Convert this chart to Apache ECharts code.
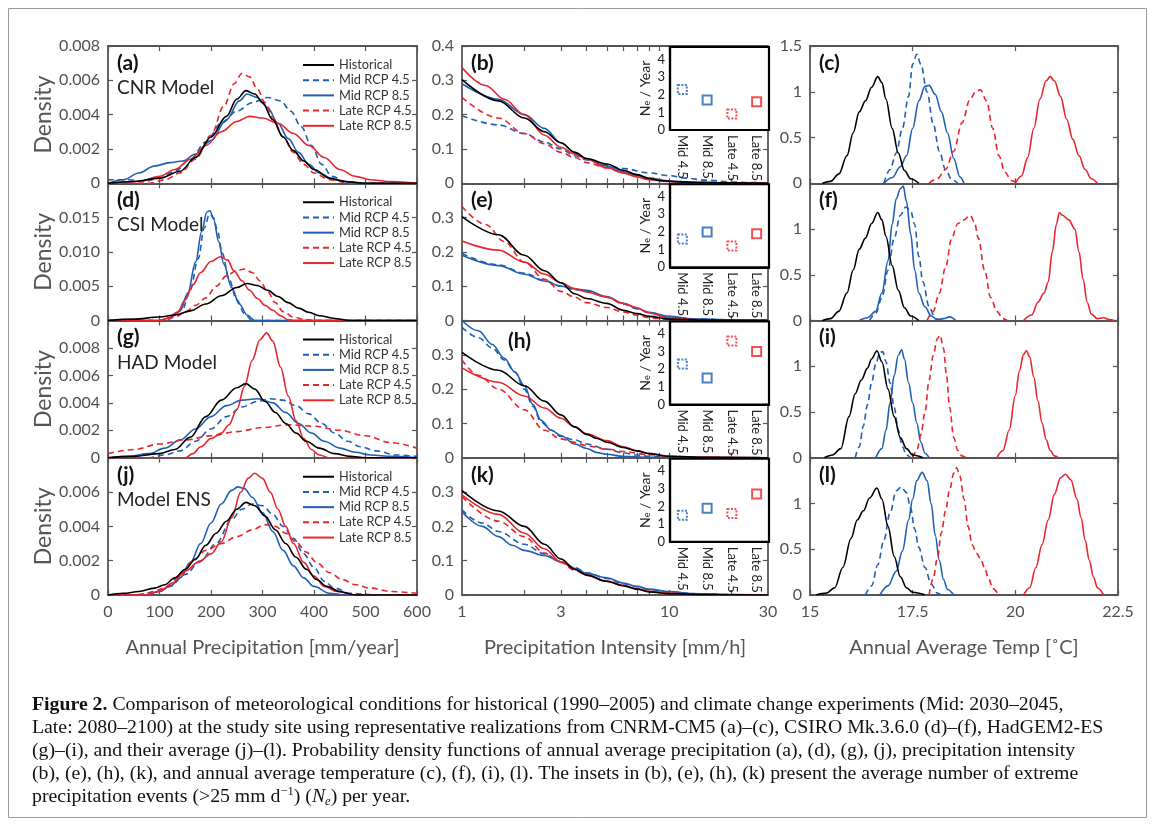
<!DOCTYPE html>
<html><head><meta charset="utf-8">
<script src="https://cdn.jsdelivr.net/npm/echarts@6/dist/echarts.min.js"></script>
<style>html,body{margin:0;padding:0;background:#fff}#c{width:1155px;height:825px}</style>
</head><body><div id="c"></div>
<script>
// ---------------- DATA ----------------
const seriesNames = ['Historical','Mid RCP 4.5','Mid RCP 8.5','Late RCP 4.5','Late RCP 8.5'];
const modelNames = ['CNR Model','CSI Model','HAD Model','Model ENS'];
const panelLetters = ['(a)','(b)','(c)','(d)','(e)','(f)','(g)','(h)','(i)','(j)','(k)','(l)'];
const insetCategories = ['Mid 4.5','Mid 8.5','Late 4.5','Late 8.5'];
const precipTicks = [0,100,200,300,400,500,600];
const intensityTickLabels = [1,3,10,30];
const intensityMinorTicks = [2,3,4,5,6,7,8,9,10,20];
const tempTicks = [15,17.5,20,22.5];

// (a) CNR annual precipitation [mm/year, density]
const a_hist = [[0,0],[50,0.0001],[100,0.0003],[140,0.0007],[170,0.0015],[200,0.0027],[230,0.0039],[250,0.0049],[268,0.0054],[285,0.0052],[300,0.0047],[320,0.0037],[340,0.0027],[360,0.0019],[380,0.0013],[400,0.0008],[430,0.0003],[460,0.0001],[500,0],[600,0]];
const a_mid45 = [[0,0.0002],[40,0.0002],[70,0.0001],[100,0.0003],[130,0.0007],[160,0.0014],[190,0.0024],[220,0.0035],[250,0.0042],[280,0.0047],[310,0.0050],[335,0.0048],[355,0.0042],[375,0.0033],[395,0.0022],[415,0.0011],[435,0.0004],[460,0.0001],[490,0],[600,0]];
const a_mid85 = [[0,0],[30,0.0002],[60,0.0006],[90,0.0010],[120,0.0012],[145,0.0013],[170,0.0017],[200,0.0025],[230,0.0037],[255,0.0048],[270,0.0052],[290,0.0050],[310,0.0044],[330,0.0035],[350,0.0026],[370,0.0018],[390,0.0011],[410,0.0006],[440,0.0002],[480,0],[600,0]];
const a_late45 = [[0,0],[80,0],[110,0.0002],[140,0.0006],[170,0.0014],[200,0.0028],[225,0.0045],[245,0.0058],[260,0.0064],[275,0.0062],[290,0.0055],[305,0.0047],[320,0.0038],[340,0.0027],[360,0.0018],[380,0.0011],[400,0.0006],[430,0.0002],[470,0],[600,0]];
const a_late85 = [[0,0],[60,0.0001],[100,0.0004],[130,0.0008],[160,0.0014],[190,0.0022],[220,0.0030],[250,0.0036],[275,0.0039],[300,0.0038],[330,0.0035],[360,0.0029],[390,0.0022],[420,0.0015],[450,0.0008],[480,0.0004],[510,0.0002],[550,0.0001],[600,0]];

// (d) CSI
const d_hist = [[0,0],[50,0.0002],[100,0.0005],[130,0.0008],[160,0.0014],[190,0.0024],[220,0.0036],[250,0.0048],[270,0.0054],[290,0.0051],[310,0.0044],[330,0.0035],[350,0.0026],[370,0.0018],[390,0.0012],[410,0.0007],[440,0.0003],[470,0],[600,0]];
const d_mid45 = [[0,0],[105,0],[125,0.0005],[145,0.0017],[160,0.0045],[175,0.0090],[187,0.0135],[197,0.0155],[205,0.0150],[212,0.0132],[222,0.0098],[235,0.0060],[250,0.0030],[265,0.0010],[280,0],[600,0]];
const d_mid85 = [[0,0],[100,0],[120,0.0004],[140,0.0014],[155,0.0040],[170,0.0085],[182,0.0130],[192,0.0158],[198,0.0160],[205,0.0148],[215,0.0115],[225,0.0082],[240,0.0048],[255,0.0024],[270,0.0008],[285,0],[600,0]];
const d_late45 = [[0,0],[110,0],[130,0.0005],[150,0.0012],[170,0.0022],[190,0.0033],[210,0.0050],[230,0.0065],[250,0.0073],[265,0.0075],[280,0.0070],[295,0.0058],[310,0.0042],[325,0.0026],[340,0.0013],[360,0.0005],[385,0.0001],[400,0],[600,0]];
const d_late85 = [[0,0],[100,0],[115,0.0003],[135,0.0012],[150,0.0030],[165,0.0052],[180,0.0070],[200,0.0086],[218,0.0093],[232,0.0088],[245,0.0072],[260,0.0058],[275,0.0044],[290,0.0032],[305,0.0022],[320,0.0015],[335,0.0007],[350,0.0001],[360,0],[600,0]];

// (g) HAD
const g_hist = [[0,0],[50,0.0001],[100,0.0003],[130,0.0006],[160,0.0015],[190,0.0030],[220,0.0042],[250,0.0051],[268,0.0054],[285,0.0050],[305,0.0041],[325,0.0033],[345,0.0025],[365,0.0018],[385,0.0012],[410,0.0007],[440,0.0003],[470,0.0001],[500,0],[600,0]];
const g_mid45 = [[0,0],[80,0],[110,0.0002],[140,0.0005],[170,0.0012],[200,0.0021],[230,0.0030],[260,0.0037],[290,0.0041],[315,0.0043],[340,0.0042],[365,0.0038],[390,0.0032],[415,0.0025],[440,0.0018],[465,0.0012],[490,0.0008],[520,0.0005],[560,0.0002],[600,0.0001]];
const g_mid85 = [[0,0],[40,0.0001],[80,0.0003],[110,0.0007],[140,0.0013],[170,0.0021],[200,0.0030],[230,0.0038],[260,0.0042],[290,0.0043],[320,0.0040],[345,0.0033],[370,0.0025],[395,0.0018],[420,0.0012],[450,0.0007],[480,0.0004],[510,0.0002],[550,0.0001],[600,0]];
const g_late45 = [[0,0.0003],[50,0.0006],[100,0.0010],[150,0.0013],[200,0.0016],[250,0.0019],[300,0.0022],[350,0.0024],[400,0.0023],[450,0.0020],[500,0.0016],[550,0.0011],[600,0.0007]];
const g_late85 = [[0,0],[150,0],[165,0.0003],[180,0.0008],[200,0.0014],[220,0.0018],[235,0.0024],[250,0.0035],[265,0.0052],[280,0.0071],[295,0.0086],[308,0.0091],[320,0.0085],[335,0.0066],[350,0.0045],[365,0.0027],[380,0.0014],[395,0.0006],[410,0.0002],[430,0],[600,0]];

// (j) ENS
const j_hist = [[0,0],[30,0.0001],[60,0.0002],[90,0.0004],[110,0.0006],[130,0.0010],[150,0.0015],[170,0.0021],[190,0.0029],[210,0.0036],[230,0.0043],[250,0.0050],[268,0.0054],[285,0.0052],[305,0.0046],[325,0.0038],[345,0.0030],[365,0.0022],[385,0.0015],[405,0.0009],[425,0.0005],[450,0.0002],[480,0],[600,0]];
const j_mid45 = [[0,0],[60,0],[90,0.0002],[120,0.0005],[150,0.0012],[180,0.0020],[210,0.0030],[240,0.0044],[260,0.0050],[280,0.0053],[300,0.0052],[320,0.0047],[340,0.0040],[360,0.0033],[380,0.0024],[400,0.0016],[420,0.0008],[440,0.0004],[470,0.0001],[520,0],[600,0]];
const j_mid85 = [[0,0],[70,0],[100,0.0002],[120,0.0005],[140,0.0010],[160,0.0019],[180,0.0030],[200,0.0042],[220,0.0053],[240,0.0061],[252,0.0063],[265,0.0062],[280,0.0057],[300,0.0048],[320,0.0037],[340,0.0026],[360,0.0017],[380,0.0010],[400,0.0005],[430,0.0001],[460,0],[600,0]];
const j_late45 = [[0,0],[50,0],[80,0.0001],[110,0.0004],[140,0.0011],[165,0.0020],[190,0.0026],[220,0.0030],[250,0.0034],[280,0.0038],[305,0.0041],[325,0.0040],[345,0.0036],[365,0.0031],[385,0.0025],[405,0.0019],[430,0.0013],[455,0.0009],[480,0.0006],[510,0.0004],[550,0.0002],[600,0.0001]];
const j_late85 = [[0,0],[70,0],[100,0.0002],[125,0.0007],[150,0.0014],[175,0.0019],[200,0.0024],[220,0.0031],[240,0.0045],[258,0.0060],[272,0.0068],[285,0.0071],[300,0.0068],[315,0.0060],[330,0.0050],[345,0.0040],[360,0.0030],[380,0.0019],[400,0.0011],[420,0.0005],[445,0.0002],[480,0],[600,0]];

// (b) CNR precipitation intensity [mm/h, density]
const b_hist = [[1,0.302],[1.5,0.24],[2,0.19],[2.5,0.15],[3,0.118],[3.5,0.09],[4,0.072],[5,0.056],[6,0.038],[7,0.025],[8,0.014],[9,0.008],[11,0.004],[15,0.002],[20,0.001],[30,0]];
const b_mid45 = [[1,0.197],[1.5,0.17],[2,0.145],[2.5,0.12],[3,0.10],[3.5,0.08],[4,0.068],[5,0.052],[6,0.043],[8,0.03],[10,0.022],[12,0.015],[15,0.009],[20,0.004],[25,0.002],[30,0.001]];
const b_mid85 = [[1,0.29],[1.5,0.245],[2,0.2],[2.5,0.16],[3,0.118],[3.5,0.09],[4,0.07],[5,0.05],[6,0.034],[7,0.022],[8,0.015],[10,0.007],[13,0.003],[20,0.001],[30,0]];
const b_late45 = [[1,0.25],[1.5,0.19],[2,0.145],[2.5,0.115],[3,0.09],[3.5,0.075],[4,0.06],[5,0.045],[6,0.03],[7,0.02],[8,0.012],[10,0.006],[12,0.003],[20,0.001],[30,0]];
const b_late85 = [[1,0.337],[1.3,0.285],[1.6,0.245],[2,0.2],[2.5,0.14],[3,0.105],[3.5,0.085],[4,0.07],[5,0.045],[6,0.03],[7,0.018],[8,0.01],[10,0.005],[15,0.002],[30,0]];

// (e) CSI
const e_hist = [[1,0.303],[1.5,0.25],[2,0.19],[2.5,0.145],[3,0.11],[3.5,0.078],[4,0.064],[5,0.05],[6,0.03],[7,0.02],[8,0.012],[10,0.004],[15,0.001],[30,0]];
const e_mid45 = [[1,0.195],[1.5,0.162],[2,0.138],[2.5,0.117],[3,0.10],[3.5,0.09],[4,0.085],[5,0.068],[6,0.048],[7,0.034],[8,0.023],[10,0.011],[13,0.005],[20,0.002],[30,0.001]];
const e_mid85 = [[1,0.19],[1.5,0.16],[2,0.135],[2.5,0.115],[3,0.10],[3.5,0.092],[4,0.088],[5,0.07],[6,0.05],[7,0.035],[8,0.024],[10,0.012],[13,0.005],[20,0.002],[30,0.001]];
const e_late45 = [[1,0.332],[1.3,0.28],[1.6,0.23],[2,0.17],[2.5,0.12],[3,0.085],[3.5,0.068],[4,0.052],[5,0.038],[6,0.025],[7,0.015],[8,0.008],[10,0.003],[20,0.001],[30,0]];
const e_late85 = [[1,0.232],[1.5,0.205],[2,0.17],[2.5,0.135],[3,0.11],[3.5,0.093],[4,0.083],[5,0.068],[6,0.05],[7,0.037],[8,0.022],[10,0.007],[13,0.003],[20,0.001],[30,0]];

// (h) HAD
const h_hist = [[1,0.307],[1.5,0.255],[2,0.21],[2.5,0.165],[3,0.125],[3.5,0.09],[4,0.068],[4.5,0.056],[5,0.045],[6,0.03],[7,0.02],[8,0.012],[10,0.004],[15,0.001],[30,0]];
const h_mid45 = [[1,0.38],[1.2,0.35],[1.4,0.32],[1.6,0.285],[1.8,0.25],[2,0.2],[2.2,0.15],[2.4,0.105],[2.7,0.08],[3,0.062],[3.5,0.052],[4,0.04],[5,0.025],[6,0.014],[7,0.008],[8,0.004],[10,0.002],[30,0]];
const h_mid85 = [[1,0.40],[1.2,0.37],[1.4,0.33],[1.6,0.29],[1.8,0.25],[2,0.21],[2.2,0.155],[2.4,0.11],[2.7,0.08],[3,0.065],[3.5,0.04],[4,0.027],[4.5,0.015],[5,0.01],[6,0.004],[8,0.001],[30,0]];
const h_late45 = [[1,0.285],[1.2,0.24],[1.5,0.2],[2,0.14],[2.5,0.08],[3,0.055],[3.5,0.045],[4,0.035],[5,0.025],[6,0.018],[8,0.009],[10,0.004],[15,0.001],[30,0]];
const h_late85 = [[1,0.262],[1.5,0.22],[2,0.18],[2.5,0.145],[3,0.115],[3.5,0.09],[4,0.07],[5,0.05],[6,0.032],[7,0.02],[8,0.012],[10,0.004],[15,0.001],[30,0]];

// (k) ENS
const k_hist = [[1,0.304],[1.5,0.245],[2,0.2],[2.5,0.148],[3,0.105],[3.5,0.075],[4,0.058],[5,0.04],[6,0.027],[7,0.017],[8,0.009],[10,0.004],[15,0.001],[30,0]];
const k_mid45 = [[1,0.248],[1.25,0.21],[1.5,0.185],[2,0.148],[2.5,0.12],[3,0.097],[3.5,0.08],[4,0.065],[5,0.048],[6,0.033],[7,0.024],[8,0.016],[10,0.009],[13,0.004],[20,0.001],[30,0]];
const k_mid85 = [[1,0.243],[1.25,0.2],[1.5,0.17],[1.75,0.145],[2,0.13],[2.5,0.115],[3,0.097],[3.5,0.078],[4,0.063],[5,0.05],[6,0.035],[7,0.025],[8,0.017],[10,0.01],[13,0.004],[20,0.001],[30,0]];
const k_late45 = [[1,0.287],[1.5,0.215],[2,0.17],[2.5,0.122],[3,0.095],[3.5,0.072],[4,0.058],[5,0.04],[6,0.027],[7,0.017],[8,0.01],[10,0.005],[15,0.001],[30,0]];
const k_late85 = [[1,0.292],[1.5,0.235],[2,0.18],[2.5,0.135],[3,0.097],[3.5,0.075],[4,0.058],[5,0.04],[6,0.028],[7,0.018],[8,0.011],[10,0.005],[15,0.001],[30,0]];

// (c) CNR annual average temperature [degC, density]
const c_hist = [[15.3,0],[15.5,0.02],[15.7,0.1],[15.9,0.3],[16.05,0.55],[16.2,0.78],[16.35,0.9],[16.5,1.05],[16.65,1.165],[16.75,1.1],[16.85,0.92],[17.0,0.6],[17.15,0.33],[17.3,0.14],[17.45,0.05],[17.65,0]];
const c_mid45 = [[16.8,0],[16.95,0.15],[17.1,0.33],[17.25,0.6],[17.4,0.95],[17.5,1.3],[17.6,1.41],[17.7,1.3],[17.85,1.0],[18.0,0.65],[18.15,0.35],[18.3,0.15],[18.45,0.04],[18.6,0]];
const c_mid85 = [[16.8,0],[17.0,0.06],[17.2,0.18],[17.35,0.3],[17.5,0.6],[17.65,0.9],[17.8,1.06],[17.9,1.07],[18.05,0.97],[18.2,0.78],[18.35,0.55],[18.5,0.27],[18.65,0.07],[18.75,0]];
const c_late45 = [[17.9,0],[18.1,0.05],[18.3,0.15],[18.5,0.35],[18.7,0.66],[18.9,0.92],[19.05,1.01],[19.15,1.02],[19.3,0.9],[19.45,0.6],[19.6,0.3],[19.75,0.12],[19.9,0.03],[20.05,0]];
const c_late85 = [[20.0,0],[20.15,0.08],[20.3,0.28],[20.45,0.6],[20.6,0.92],[20.75,1.12],[20.85,1.165],[20.95,1.12],[21.1,0.95],[21.25,0.7],[21.4,0.48],[21.55,0.3],[21.7,0.15],[21.85,0.05],[22.0,0]];

// (f) CSI
const f_hist = [[15.3,0],[15.5,0.02],[15.7,0.1],[15.9,0.3],[16.05,0.55],[16.2,0.78],[16.35,0.9],[16.5,1.06],[16.65,1.18],[16.75,1.1],[16.85,0.92],[17.0,0.6],[17.15,0.33],[17.3,0.14],[17.45,0.05],[17.65,0]];
const f_mid45 = [[16.45,0],[16.6,0.08],[16.75,0.25],[16.9,0.55],[17.05,0.9],[17.2,1.15],[17.33,1.24],[17.45,1.2],[17.55,1.05],[17.65,0.7],[17.75,0.42],[17.9,0.15],[18.05,0.02],[18.15,0]];
const f_mid85 = [[16.2,0],[16.4,0.03],[16.6,0.1],[16.75,0.3],[16.9,0.65],[17.0,1.05],[17.1,1.33],[17.2,1.44],[17.27,1.47],[17.35,1.3],[17.45,0.95],[17.55,0.55],[17.65,0.3],[17.8,0.15],[17.95,0.05],[18.1,0.01],[18.25,0.02],[18.4,0.04],[18.55,0]];
const f_late45 = [[17.85,0],[18.0,0.1],[18.15,0.3],[18.3,0.58],[18.45,0.9],[18.6,1.06],[18.75,1.1],[18.9,1.15],[19.0,1.08],[19.1,0.9],[19.25,0.55],[19.4,0.25],[19.55,0.1],[19.7,0.02],[19.8,0]];
const f_late85 = [[20.2,0],[20.4,0.06],[20.55,0.2],[20.7,0.3],[20.8,0.42],[20.9,0.75],[21.0,1.05],[21.07,1.18],[21.15,1.15],[21.3,1.1],[21.45,1.0],[21.55,0.75],[21.65,0.45],[21.75,0.2],[21.85,0.07],[22.0,0.02],[22.15,0.03],[22.3,0.01],[22.4,0]];

// (i) HAD
const i_hist = [[15.35,0],[15.55,0.03],[15.75,0.1],[15.95,0.45],[16.1,0.7],[16.25,0.85],[16.4,0.98],[16.5,1.08],[16.63,1.17],[16.75,1.05],[16.9,0.75],[17.05,0.45],[17.2,0.22],[17.35,0.1],[17.5,0.03],[17.75,0]];
const i_mid45 = [[16.1,0],[16.2,0.12],[16.3,0.35],[16.4,0.58],[16.5,0.82],[16.6,1.02],[16.7,1.15],[16.77,1.16],[16.85,1.05],[16.95,0.82],[17.05,0.55],[17.15,0.3],[17.25,0.12],[17.35,0.03],[17.45,0]];
const i_mid85 = [[16.6,0],[16.75,0.1],[16.85,0.3],[16.95,0.6],[17.05,0.9],[17.15,1.12],[17.23,1.18],[17.3,1.08],[17.4,0.82],[17.5,0.6],[17.6,0.38],[17.7,0.17],[17.8,0.05],[17.9,0]];
const i_late45 = [[17.5,0],[17.6,0.08],[17.7,0.25],[17.8,0.5],[17.9,0.85],[18.0,1.12],[18.1,1.3],[18.17,1.34],[18.25,1.2],[18.32,0.92],[18.4,0.55],[18.5,0.22],[18.6,0.08],[18.7,0.02],[18.8,0]];
const i_late85 = [[19.55,0],[19.7,0.08],[19.85,0.3],[20.0,0.68],[20.1,0.95],[20.2,1.13],[20.27,1.17],[20.35,1.1],[20.45,0.88],[20.55,0.62],[20.65,0.38],[20.75,0.2],[20.85,0.08],[20.95,0.02],[21.05,0]];

// (l) ENS
const l_hist = [[15.15,0],[15.4,0.02],[15.6,0.08],[15.8,0.3],[16.0,0.62],[16.15,0.82],[16.3,0.92],[16.45,1.06],[16.63,1.17],[16.75,1.05],[16.9,0.75],[17.05,0.42],[17.2,0.2],[17.35,0.08],[17.5,0.03],[17.8,0]];
const l_mid45 = [[16.35,0],[16.5,0.1],[16.65,0.33],[16.8,0.6],[16.95,0.9],[17.1,1.14],[17.22,1.18],[17.35,1.12],[17.45,0.95],[17.55,0.72],[17.65,0.52],[17.8,0.3],[17.95,0.12],[18.1,0.02],[18.2,0]];
const l_mid85 = [[16.7,0],[16.9,0.1],[17.1,0.26],[17.25,0.48],[17.4,0.82],[17.5,1.05],[17.6,1.25],[17.73,1.34],[17.85,1.25],[17.95,1.0],[18.05,0.65],[18.15,0.38],[18.25,0.17],[18.35,0.06],[18.5,0]];
const l_late45 = [[17.9,0],[18.0,0.18],[18.1,0.4],[18.2,0.68],[18.3,0.92],[18.4,1.15],[18.5,1.33],[18.57,1.39],[18.65,1.3],[18.75,1.05],[18.85,0.75],[18.95,0.55],[19.05,0.46],[19.15,0.4],[19.25,0.3],[19.35,0.18],[19.45,0.07],[19.6,0]];
const l_late85 = [[20.2,0],[20.35,0.08],[20.5,0.3],[20.65,0.55],[20.8,0.82],[20.95,1.1],[21.1,1.28],[21.22,1.32],[21.35,1.26],[21.5,1.05],[21.6,0.85],[21.7,0.6],[21.8,0.38],[21.9,0.2],[22.0,0.08],[22.15,0]];

// Insets: N_e per year (Mid 4.5, Mid 8.5, Late 4.5, Late 8.5)
const b_ne = [2.3, 1.7, 0.9, 1.6];
const e_ne = [1.6, 2.0, 1.2, 1.9];
const h_ne = [2.3, 1.5, 3.6, 3.0];
const k_ne = [1.5, 1.9, 1.6, 2.7];

// ---------------- LAYOUT / STYLE ----------------
const FONT = 'Lato, "Noto Sans", sans-serif';
const SERIF = '"Liberation Serif", "DejaVu Serif", serif';
const BLUE = '#1f5fb3', RED = '#e8252c', AXC = '#555555', LBL = '#505050';
const LOG30 = Math.log10(30);
const colL = [108, 462, 810], colW = [309, 306, 308];
const TOP = 46, PH = 137.25;
const rowTop = r => TOP + r * PH;

const panelData = [
  [a_hist,a_mid45,a_mid85,a_late45,a_late85],
  [b_hist,b_mid45,b_mid85,b_late45,b_late85],
  [c_hist,c_mid45,c_mid85,c_late45,c_late85],
  [d_hist,d_mid45,d_mid85,d_late45,d_late85],
  [e_hist,e_mid45,e_mid85,e_late45,e_late85],
  [f_hist,f_mid45,f_mid85,f_late45,f_late85],
  [g_hist,g_mid45,g_mid85,g_late45,g_late85],
  [h_hist,h_mid45,h_mid85,h_late45,h_late85],
  [i_hist,i_mid45,i_mid85,i_late45,i_late85],
  [j_hist,j_mid45,j_mid85,j_late45,j_late85],
  [k_hist,k_mid45,k_mid85,k_late45,k_late85],
  [l_hist,l_mid45,l_mid85,l_late45,l_late85]
];
const insetData = [b_ne, e_ne, h_ne, k_ne];
const col1Max = [0.008, 0.02, 0.01, 0.008];
const col1Int = [0.002, 0.005, 0.002, 0.002];

const lineStyles = [
  {color:'#000000', type:'solid'},
  {color:BLUE, type:[6,4]},
  {color:BLUE, type:'solid'},
  {color:RED, type:[6,4]},
  {color:RED, type:'solid'}
];

const grids = [], xAxes = [], yAxes = [], series = [], legends = [], graphics = [];
const tickBase = {inside:true, length:5, lineStyle:{color:AXC, width:1.2}};
const lineBase = {show:true, onZero:false, lineStyle:{color:AXC, width:1.8}};
const lblBase = {color:LBL, fontSize:16, fontFamily:FONT};

for (let r = 0; r < 4; r++) {
  for (let c = 0; c < 3; c++) {
    const p = r*3 + c;
    grids.push({left:colL[c], top:rowTop(r), width:colW[c], height:PH, containLabel:false});
    const bottomRow = r === 3;
    let xb, xt;
    if (c === 0) {
      xb = {type:'value', min:precipTicks[0], max:precipTicks[precipTicks.length-1], interval:100,
        axisLabel:Object.assign({show:bottomRow, margin:9}, lblBase)};
      xt = {type:'value', min:0, max:600, interval:100};
      if (bottomRow) Object.assign(xb, {name:'Annual Precipitation [mm/year]'});
    } else if (c === 1) {
      xb = {type:'value', min:0, max:LOG30,
        axisLabel:Object.assign({show:bottomRow, margin:9, customValues:intensityTickLabels.map(Math.log10),
          formatter:v=>String(Math.round(Math.pow(10,v)))}, lblBase),
        axisTick:Object.assign({customValues:intensityMinorTicks.map(Math.log10)}, tickBase)};
      xt = {type:'value', min:0, max:LOG30,
        axisTick:Object.assign({customValues:intensityMinorTicks.filter(v=>v<=10).map(Math.log10)}, tickBase)};
      if (bottomRow) Object.assign(xb, {name:'Precipitation Intensity [mm/h]'});
    } else {
      xb = {type:'value', min:tempTicks[0], max:tempTicks[tempTicks.length-1], interval:2.5,
        axisLabel:Object.assign({show:bottomRow, margin:9}, lblBase)};
      xt = {type:'value', min:15, max:22.5, interval:2.5};
      if (bottomRow) Object.assign(xb, {name:'Annual Average Temp [\u02DAC]'});
    }
    Object.assign(xb, {gridIndex:p, position:'bottom', axisLine:lineBase, splitLine:{show:false},
      nameLocation:'middle', nameGap:43, nameTextStyle:{color:'#555', fontSize:20, fontFamily:FONT}});
    if (!xb.axisTick) xb.axisTick = tickBase;
    Object.assign(xt, {gridIndex:p, position:'top', axisLine:lineBase, splitLine:{show:false}, axisLabel:{show:false}});
    if (!xt.axisTick) xt.axisTick = tickBase;
    xAxes.push(xb, xt);

    let ymax, yint, fmt;
    if (c === 0) { ymax = col1Max[r]; yint = col1Int[r]; fmt = v => v === 0 ? '0' : v.toFixed(3); }
    else if (c === 1) { ymax = 0.4; yint = 0.1; fmt = v => v === 0 ? '0' : v.toFixed(1); }
    else { ymax = 1.5; yint = 0.5; fmt = v => String(+v.toFixed(2)); }
    const yl = {type:'value', gridIndex:p, position:'left', min:0, max:ymax, interval:yint,
      axisLine:lineBase, axisTick:tickBase, splitLine:{show:false},
      axisLabel:Object.assign({showMaxLabel:r===0, margin:8, formatter:fmt}, lblBase)};
    if (c === 0) Object.assign(yl, {name:'Density', nameLocation:'middle', nameGap:50,
      nameTextStyle:{color:'#555', fontSize:23, fontFamily:FONT}});
    const yr = {type:'value', gridIndex:p, position:'right', min:0, max:ymax, interval:yint,
      axisLine:lineBase, splitLine:{show:false}, axisLabel:{show:false},
      axisTick: c === 1 ? Object.assign({customValues:[0.1]}, tickBase) : tickBase};
    yAxes.push(yl, yr);

    panelData[p].forEach((arr, k) => {
      const st = lineStyles[k];
      series.push({
        type:'line', name:seriesNames[k], xAxisIndex:2*p, yAxisIndex:2*p,
        data: c === 1 ? arr.map(d => [Math.log10(d[0]), d[1]]) : arr,
        symbol:'none', showSymbol:false, smooth:0.35, smoothMonotone:'x', clip:true,
        lineStyle:{color:st.color, width:1.6, type:st.type}, itemStyle:{color:st.color},
        silent:true, animation:false, z: k===0 ? 3 : 2
      });
    });

    // panel letters
    let lx = colL[c] + 9, ly = rowTop(r) + 17;
    if (p === 7) { lx = 508; ly = rowTop(r) + 21; }
    graphics.push({type:'text', z:10, style:{text:panelLetters[p], x:lx, y:ly, fill:'#111',
      font:'bold 21px ' + FONT, verticalAlign:'middle'}});
    if (c === 0) {
      graphics.push({type:'text', z:10, style:{text:modelNames[r], x:lx, y:rowTop(r)+42, fill:'#222',
        font:'19px ' + FONT, verticalAlign:'middle'}});
      legends.push({show:true, orient:'vertical', left:297, top:rowTop(r)+7, padding:5,
        itemWidth:31, itemHeight:10, itemGap:1.2, selectedMode:false, data:seriesNames,
        itemStyle:{opacity:0, borderWidth:0},
        textStyle:{fontSize:12.8, color:'#333', fontFamily:FONT, lineHeight:14}});
    }
  }
}

// insets
for (let r = 0; r < 4; r++) {
  const gi = 12 + r;
  grids.push({left:670, top:rowTop(r)+1, width:99, height:83, show:true, backgroundColor:'#ffffff',
    borderColor:'#000', borderWidth:2.2, containLabel:false, z:5});
  xAxes.push({type:'category', gridIndex:gi, data:insetCategories, boundaryGap:true,
    axisLine:{show:true, lineStyle:{color:'#000', width:2.2}}, axisTick:{show:false},
    axisLabel:{rotate:-90, margin:5, fontSize:13, color:'#222', fontFamily:FONT}, splitLine:{show:false}, z:5});
  yAxes.push({type:'value', gridIndex:gi, min:0, max:4.7, interval:1,
    axisLine:{show:true, lineStyle:{color:'#000', width:2.2}},
    axisTick:{inside:true, length:3, lineStyle:{color:'#000', width:1}},
    axisLabel:{showMaxLabel:false, margin:5, fontSize:13, color:'#222', fontFamily:FONT},
    splitLine:{show:false}, name:'{n|N}{s|e} / Year', nameLocation:'middle', nameGap:18,
    nameTextStyle:{fontSize:14, color:'#222', fontFamily:FONT,
      rich:{n:{fontSize:14, fontFamily:FONT, color:'#222'}, s:{fontSize:9, fontFamily:FONT, color:'#222', verticalAlign:'bottom', lineHeight:8}}}, z:5});
  series.push({type:'scatter', xAxisIndex:24+r, yAxisIndex:24+r, symbol:'rect', symbolSize:9, z:6,
    silent:true, animation:false,
    data: insetData[r].map((v, i) => ({value:[i, v], itemStyle:{color:'rgba(0,0,0,0)',
      borderColor: i < 2 ? BLUE : RED, borderWidth:2, borderType: i % 2 === 0 ? [2,1.5] : 'solid'}}))});
}

// outer frame
graphics.push({type:'rect', z:0, silent:true, shape:{x:8.5, y:8.5, width:1138, height:809},
  style:{fill:'none', stroke:'#9a9a9a', lineWidth:1}});

// caption
const captionText =
 '{b|Figure 2.} Comparison of meteorological conditions for historical (1990\u20132005) and climate change experiments (Mid: 2030\u20132045,\n' +
 'Late: 2080\u20132100) at the study site using representative realizations from CNRM-CM5 (a)\u2013(c), CSIRO Mk.3.6.0 (d)\u2013(f), HadGEM2-ES\n' +
 '(g)\u2013(i), and their average (j)\u2013(l). Probability density functions of annual average precipitation (a), (d), (g), (j), precipitation intensity\n' +
 '(b), (e), (h), (k), and annual average temperature (c), (f), (i), (l). The insets in (b), (e), (h), (k) present the average number of extreme\n' +
 'precipitation events (>25 mm d{sup|\u22121}) ({it|N}{sub|e}) per year.';
graphics.push({type:'text', z:10, style:{text:captionText, x:32, y:693, fill:'#111',
  fontFamily:SERIF, fontSize:19.8, lineHeight:23,
  rich:{
    b:{fontWeight:'bold', fontFamily:SERIF, fontSize:19.8, fill:'#111'},
    sup:{fontSize:12.5, fontFamily:SERIF, verticalAlign:'top', lineHeight:14, fill:'#111'},
    it:{fontStyle:'italic', fontFamily:SERIF, fontSize:19.8, fill:'#111'},
    sub:{fontStyle:'italic', fontSize:12.5, fontFamily:SERIF, verticalAlign:'bottom', lineHeight:16, fill:'#111'}
  }}});

const chart = echarts.init(document.getElementById('c'), null, {renderer:'canvas'});
chart.setOption({
  backgroundColor:'#ffffff',
  animation:false,
  grid:grids, xAxis:xAxes, yAxis:yAxes, series:series, legend:legends, graphic:graphics
});
</script></body></html>
